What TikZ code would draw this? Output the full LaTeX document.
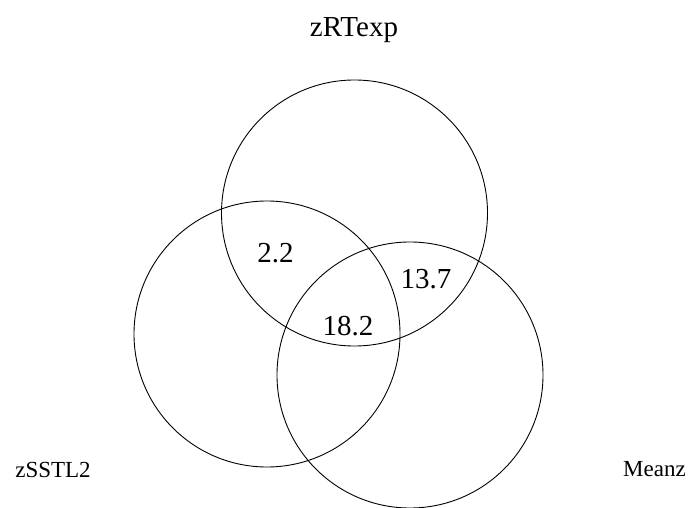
\documentclass[tikz,border=0pt]{standalone}
\usepackage{fontspec}
\setmainfont{Liberation Serif}
\begin{document}
\begin{tikzpicture}[x=1pt,y=-1pt,
  setc/.style={circle,draw,line width=0.9pt,minimum size=266pt,inner sep=0pt},
  lab/.style={anchor=base,inner sep=0pt,font=\fontsize{23}{23}\selectfont},
  num/.style={anchor=base,inner sep=0pt,font=\fontsize{29}{29}\selectfont}]
\useasboundingbox (0,0) rectangle (688,508);
\node[setc] (A) at (354.5,213) {};
\node[setc] (B) at (267,334) {};
\node[setc] (C) at (410,375) {};
\node[num] (la) at (354,37) {zRTexp};
\node[lab] (lb) at (53,477) {zSSTL2};
\node[lab] (lc) at (654.5,476) {Meanz};
\node[num] (ab) at (275.5,262) {2.2};
\node[num] (ac) at (426,288) {13.7};
\node[num] (abc) at (348,335) {18.2};
\end{tikzpicture}
\end{document}
